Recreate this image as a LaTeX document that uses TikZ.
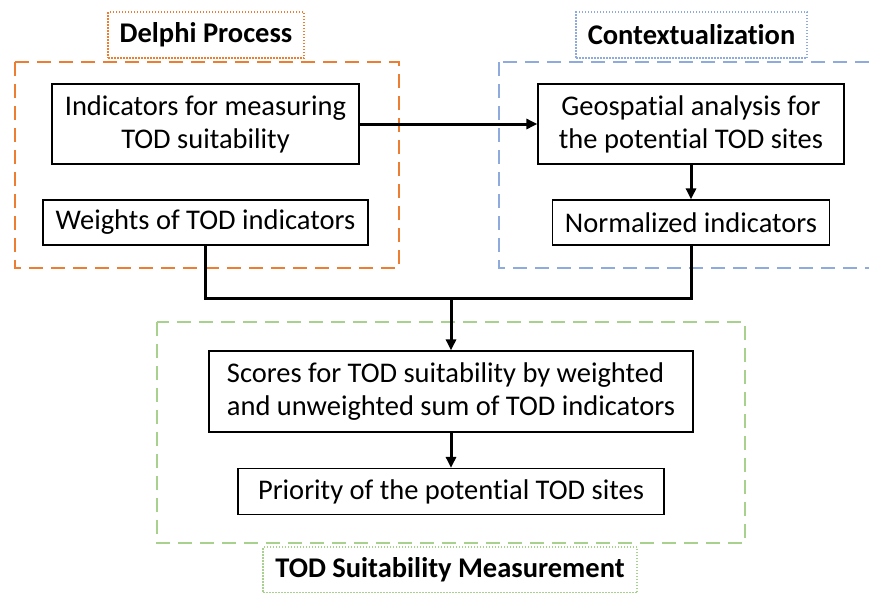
\documentclass[tikz,border=0pt]{standalone}
\usepackage{fontspec}
\setmainfont{Carlito}[Ligatures={NoCommon}]
\usetikzlibrary{arrows.meta}
\definecolor{cOrange}{HTML}{ED7D31}
\definecolor{cBlue}{HTML}{8FAADC}
\definecolor{cGreen}{HTML}{A9D18E}
\tikzset{
  txt/.style={font=\fontsize{28.5}{33}\selectfont},
  box/.style={txt, draw=black, line width=1.2pt, inner sep=0pt, align=center},
  titlebox/.style={font=\fontsize{28.5}{33}\selectfont\bfseries, inner sep=0pt, line width=1.5pt, dash pattern=on 1.5pt off 1.5pt},
  group/.style={line width=2pt, dash pattern=on 14pt off 8pt},
  conn/.style={line width=3pt},
  tip/.style={-{Triangle[length=11pt,width=10pt]}},
}
\begin{document}
\begin{tikzpicture}[x=1pt,y=-1pt]
\clip (0,0) rectangle (869,592);
\fill[white] (0,0) rectangle (869,592);
% group frames
\draw[group, cOrange] (15,62) rectangle (399,268);
\draw[group, cBlue] (499,62) rectangle (885,268);
\draw[group, cGreen] (157,322) rectangle (745,543);
% titles
\node[titlebox, draw=cOrange, minimum width=196pt, minimum height=46pt] (tdelphi) at (206,35) {Delphi Process};
\node[titlebox, draw=cBlue, minimum width=231pt, minimum height=46pt] (tcontext) at (691.5,35) {Contextualization};
\node[titlebox, draw=cGreen, minimum width=374pt, minimum height=46pt] (tsuit) at (450,570) {TOD Suitability Measurement};
% boxes
\node[box, minimum width=307pt, minimum height=80pt] (ind) at (205.5,124) {Indicators for measuring\\TOD suitability};
\node[box, minimum width=325pt, minimum height=45pt] (wts) at (205.5,222.5) {Weights of TOD indicators};
\node[box, minimum width=306pt, minimum height=80pt] (geo) at (691,124) {Geospatial analysis for\\the potential TOD sites};
\node[box, minimum width=277pt, minimum height=45pt] (norm) at (691,222.5) {Normalized indicators};
\node[box, align=left, minimum width=484pt, minimum height=81pt] (scores) at (451,391.5) {Scores for TOD suitability by weighted\\and unweighted sum of TOD indicators};
\node[box, minimum width=426pt, minimum height=46pt] (prio) at (451,491.5) {Priority of the potential TOD sites};
% connectors
\coordinate (j) at (451,298);
\draw[conn, tip] (ind.east) -- (geo.west);
\draw[conn, tip] (geo.south) -- (norm.north);
\draw[conn] (wts.south) |- (j) -| (norm.south);
\draw[conn, tip] (j) -- (scores.north);
\draw[conn, tip] (scores.south) -- (prio.north);
\end{tikzpicture}
\end{document}
